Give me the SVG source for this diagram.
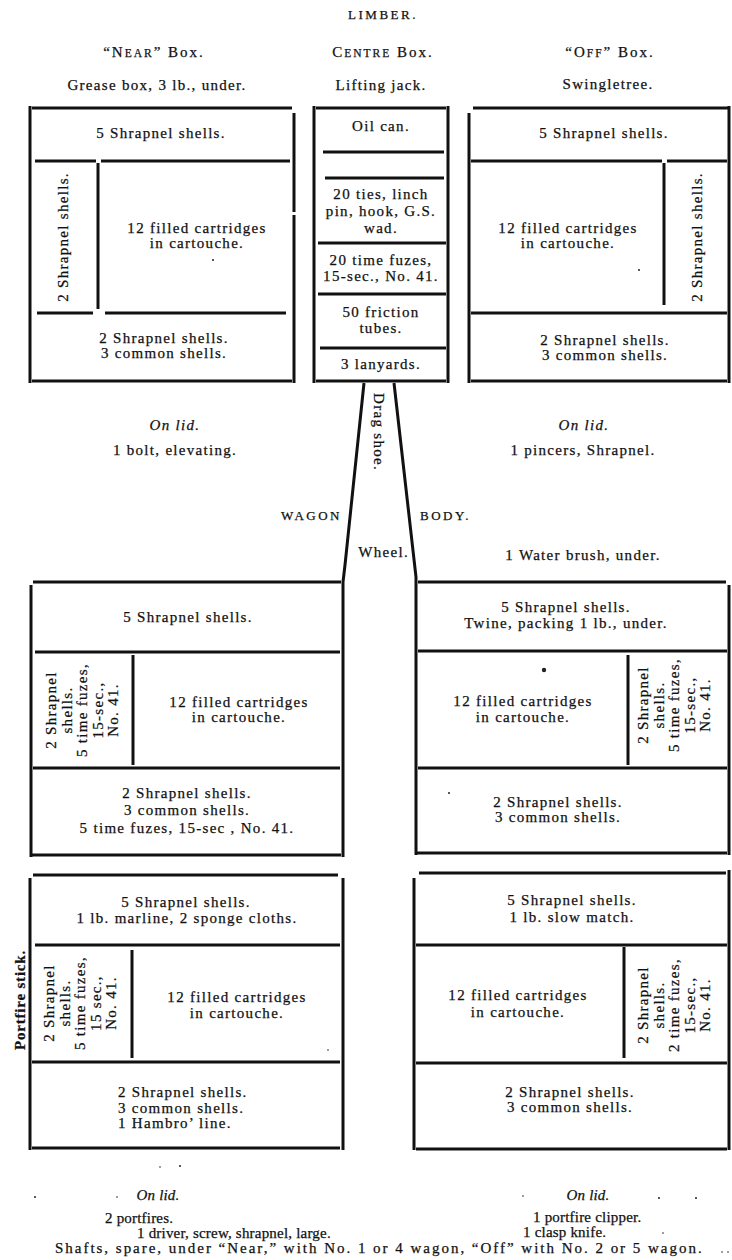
<svg xmlns="http://www.w3.org/2000/svg" width="732" height="1260" viewBox="0 0 732 1260">
<style>
.t{font-family:"Liberation Serif","Times New Roman",serif;font-size:15px;letter-spacing:1.3px;fill:#111;stroke:#111;stroke-width:0.25;text-anchor:middle}
.s{text-anchor:start}
.e{text-anchor:end}
.i{font-style:italic}
.h{letter-spacing:2px}
.k{letter-spacing:0.2px}
.c{font-size:13px;letter-spacing:2.5px}
.sc{font-size:11.5px}
.b{font-weight:bold;letter-spacing:0.8px}
.ln line,.ln polyline{stroke:#111;stroke-width:3;fill:none}
.dot{fill:#222}
</style>
<rect width="732" height="1260" fill="#fff"/>

<g id="headings">
<text class="t c" x="383" y="19">LIMBER.</text>
<text class="t h" x="154" y="57">“N<tspan class="sc">EAR</tspan>” Box.</text>
<text class="t h" x="383" y="57">C<tspan class="sc">ENTRE</tspan> Box.</text>
<text class="t h" x="610" y="57">“O<tspan class="sc">FF</tspan>” Box.</text>
<text class="t" x="157" y="90">Grease box, 3 lb., under.</text>
<text class="t" x="381" y="90">Lifting jack.</text>
<text class="t" x="608" y="89">Swingletree.</text>
</g>

<g id="near-box">
<g class="ln">
<line x1="32" y1="108" x2="292" y2="108"/>
<line x1="30" y1="106" x2="30" y2="383"/>
<line x1="294" y1="113" x2="294" y2="212"/>
<line x1="294" y1="215" x2="294" y2="383"/>
<line x1="35" y1="161" x2="96" y2="161"/>
<line x1="101" y1="161" x2="290" y2="161"/>
<line x1="98" y1="163" x2="98" y2="309"/>
<line x1="37" y1="313" x2="93" y2="313"/>
<line x1="105" y1="313" x2="286" y2="313"/>
<line x1="32" y1="381" x2="292" y2="381"/>
</g>
<text class="t" x="161" y="138">5 Shrapnel shells.</text>
<text class="t" transform="translate(63 237) rotate(-90)" y="5">2 Shrapnel shells.</text>
<text class="t" x="197" y="233">12 filled cartridges</text>
<text class="t" x="197" y="248">in cartouche.</text>
<text class="t" x="164" y="343">2 Shrapnel shells.</text>
<text class="t" x="164" y="358">3 common shells.</text>
</g>

<g id="centre-box">
<g class="ln">
<line x1="316" y1="108" x2="446" y2="108"/>
<line x1="314" y1="106" x2="314" y2="383"/>
<line x1="448" y1="106" x2="448" y2="383"/>
<line x1="323" y1="152" x2="444" y2="152"/>
<line x1="325" y1="178" x2="444" y2="178"/>
<line x1="318" y1="243" x2="446" y2="243"/>
<line x1="318" y1="294" x2="446" y2="294"/>
<line x1="320" y1="348" x2="446" y2="348"/>
<line x1="316" y1="381" x2="446" y2="381"/>
</g>
<text class="t" x="381" y="131">Oil can.</text>
<text class="t" x="381" y="199">20 ties, linch</text>
<text class="t" x="381" y="216">pin, hook, G.S.</text>
<text class="t" x="381" y="233">wad.</text>
<text class="t" x="381" y="265">20 time fuzes,</text>
<text class="t" x="381" y="281">15-sec., No. 41.</text>
<text class="t" x="381" y="317">50 friction</text>
<text class="t" x="381" y="333">tubes.</text>
<text class="t" x="381" y="369">3 lanyards.</text>
</g>

<g id="off-box">
<g class="ln">
<line x1="473" y1="108" x2="729" y2="108"/>
<line x1="469" y1="113" x2="469" y2="383"/>
<line x1="729" y1="106" x2="729" y2="383"/>
<line x1="471" y1="161" x2="662" y2="161"/>
<line x1="667" y1="161" x2="727" y2="161"/>
<line x1="664" y1="163" x2="664" y2="305"/>
<line x1="471" y1="313" x2="727" y2="313"/>
<line x1="471" y1="381" x2="727" y2="381"/>
</g>
<text class="t" x="604" y="138">5 Shrapnel shells.</text>
<text class="t" x="568" y="233">12 filled cartridges</text>
<text class="t" x="568" y="248">in cartouche.</text>
<text class="t" transform="translate(697 237) rotate(-90)" y="5">2 Shrapnel shells.</text>
<text class="t" x="605" y="345">2 Shrapnel shells.</text>
<text class="t" x="605" y="360">3 common shells.</text>
</g>

<g id="limber-lids">
<text class="t i" x="175" y="430">On lid.</text>
<text class="t" x="175" y="455">1 bolt, elevating.</text>
<text class="t i" x="584" y="430">On lid.</text>
<text class="t" x="583" y="455">1 pincers, Shrapnel.</text>
</g>

<g id="connectors" class="ln">
<polyline points="364,383 345,565 343,582 343,857"/>
<polyline points="394,383 416,577 416,855"/>
</g>

<g id="wagon-labels">
<text class="t c e" x="342" y="520">WAGON</text>
<text class="t c s" x="420" y="520">BODY.</text>
<text class="t e" x="409" y="557">Wheel.</text>
<text class="t" x="583" y="560">1 Water brush, under.</text>
<text class="t" transform="translate(379 432) rotate(90)" y="5">Drag shoe.</text>
</g>

<g id="wagon-near-front">
<g class="ln">
<line x1="33" y1="582" x2="341" y2="582"/>
<line x1="31" y1="585" x2="31" y2="857"/>
<line x1="35" y1="652" x2="340" y2="652"/>
<line x1="133" y1="655" x2="133" y2="765"/>
<line x1="33" y1="768" x2="340" y2="768"/>
<line x1="30" y1="855" x2="341" y2="855"/>
</g>
<text class="t" x="188" y="622">5 Shrapnel shells.</text>
<text class="t" transform="translate(82 710) rotate(-90)"><tspan x="0" y="-26">2 Shrapnel</tspan><tspan x="0" y="-10.5">shells.</tspan><tspan x="0" y="5">5 time fuzes,</tspan><tspan x="0" y="20.5">15-sec.,</tspan><tspan x="0" y="36">No. 41.</tspan></text>
<text class="t" x="239" y="707">12 filled cartridges</text>
<text class="t" x="239" y="722">in cartouche.</text>
<text class="t" x="187" y="798">2 Shrapnel shells.</text>
<text class="t" x="187" y="815">3 common shells.</text>
<text class="t" x="187" y="833">5 time fuzes, 15-sec , No. 41.</text>
</g>

<g id="wagon-off-front">
<g class="ln">
<line x1="418" y1="582" x2="726" y2="582"/>
<line x1="729" y1="585" x2="729" y2="855"/>
<line x1="418" y1="651" x2="727" y2="651"/>
<line x1="628" y1="655" x2="628" y2="765"/>
<line x1="418" y1="768" x2="727" y2="768"/>
<line x1="416" y1="853" x2="727" y2="853"/>
</g>
<text class="t" x="566" y="612">5 Shrapnel shells.</text>
<text class="t" x="566" y="628">Twine, packing 1 lb., under.</text>
<text class="t" x="523" y="706">12 filled cartridges</text>
<text class="t" x="523" y="722">in cartouche.</text>
<text class="t" transform="translate(674 705) rotate(-90)"><tspan x="0" y="-26">2 Shrapnel</tspan><tspan x="0" y="-10.5">shells.</tspan><tspan x="0" y="5">5 time fuzes,</tspan><tspan x="0" y="20.5">15-sec.,</tspan><tspan x="0" y="36">No. 41.</tspan></text>
<text class="t" x="558" y="807">2 Shrapnel shells.</text>
<text class="t" x="558" y="822">3 common shells.</text>
</g>

<g id="wagon-near-rear">
<g class="ln">
<line x1="33" y1="875" x2="338" y2="875"/>
<line x1="30" y1="878" x2="30" y2="1150"/>
<line x1="343" y1="878" x2="343" y2="1150"/>
<line x1="35" y1="945" x2="340" y2="945"/>
<line x1="132" y1="950" x2="132" y2="1058"/>
<line x1="32" y1="1062" x2="340" y2="1062"/>
<line x1="32" y1="1148" x2="340" y2="1148"/>
</g>
<text class="t" x="186" y="907">5 Shrapnel shells.</text>
<text class="t" x="187" y="923">1 lb. marline, 2 sponge cloths.</text>
<text class="t" transform="translate(80 1003) rotate(-90)"><tspan x="0" y="-26">2 Shrapnel</tspan><tspan x="0" y="-10.5">shells.</tspan><tspan x="0" y="5">5 time fuzes,</tspan><tspan x="0" y="20.5">15 sec.,</tspan><tspan x="0" y="36">No. 41.</tspan></text>
<text class="t" x="237" y="1002">12 filled cartridges</text>
<text class="t" x="237" y="1018">in cartouche.</text>
<text class="t s" x="118" y="1097">2 Shrapnel shells.</text>
<text class="t s" x="118" y="1113">3 common shells.</text>
<text class="t s" x="118" y="1128">1 Hambro’ line.</text>
<text class="t b" transform="translate(20 1000) rotate(-90)" y="5">Portfire stick.</text>
</g>

<g id="wagon-off-rear">
<g class="ln">
<line x1="419" y1="873" x2="726" y2="873"/>
<line x1="414" y1="878" x2="414" y2="1150"/>
<line x1="729" y1="870" x2="729" y2="1150"/>
<line x1="416" y1="945" x2="727" y2="945"/>
<line x1="624" y1="947" x2="624" y2="1058"/>
<line x1="416" y1="1063" x2="727" y2="1063"/>
<line x1="416" y1="1149" x2="727" y2="1149"/>
</g>
<text class="t" x="572" y="905">5 Shrapnel shells.</text>
<text class="t" x="572" y="922">1 lb. slow match.</text>
<text class="t" x="518" y="1000">12 filled cartridges</text>
<text class="t" x="518" y="1017">in cartouche.</text>
<text class="t" transform="translate(674 1005) rotate(-90)"><tspan x="0" y="-26">2 Shrapnel</tspan><tspan x="0" y="-10.5">shells.</tspan><tspan x="0" y="5">2 time fuzes,</tspan><tspan x="0" y="20.5">15-sec.,</tspan><tspan x="0" y="36">No. 41.</tspan></text>
<text class="t" x="570" y="1097">2 Shrapnel shells.</text>
<text class="t" x="570" y="1112">3 common shells.</text>
</g>

<g id="wagon-lids">
<text class="t i k" x="158" y="1200">On lid.</text>
<text class="t s k" x="105" y="1223">2 portfires.</text>
<text class="t s k" x="137" y="1238">1 driver, screw, shrapnel, large.</text>
<text class="t i k" x="588" y="1200">On lid.</text>
<text class="t s k" x="533" y="1222">1 portfire clipper.</text>
<text class="t s k" x="523" y="1237">1 clasp knife.</text>
<text class="t s" x="55" y="1253" textLength="648" lengthAdjust="spacing">Shafts, spare, under “Near,” with No. 1 or 4 wagon, “Off” with No. 2 or 5 wagon.</text>
</g>

<g id="specks">
<circle class="dot" cx="213" cy="260" r="1"/>
<circle class="dot" cx="639" cy="270" r="1"/>
<circle class="dot" cx="544" cy="670" r="2.2"/>
<circle class="dot" cx="449" cy="793" r="1"/>
<circle class="dot" cx="328" cy="1050" r="0.8"/>
<circle class="dot" cx="160" cy="1167" r="0.8"/>
<circle class="dot" cx="180" cy="1166" r="1"/>
<circle class="dot" cx="35" cy="1197" r="1"/>
<circle class="dot" cx="117" cy="1197" r="0.8"/>
<circle class="dot" cx="523" cy="1196" r="0.8"/>
<circle class="dot" cx="659" cy="1198" r="1"/>
<circle class="dot" cx="696" cy="1198" r="1"/>
<circle class="dot" cx="663" cy="1233" r="0.8"/>
<circle class="dot" cx="722" cy="1252" r="0.8"/>
<circle class="dot" cx="728" cy="1252" r="0.8"/>
</g>
</svg>
